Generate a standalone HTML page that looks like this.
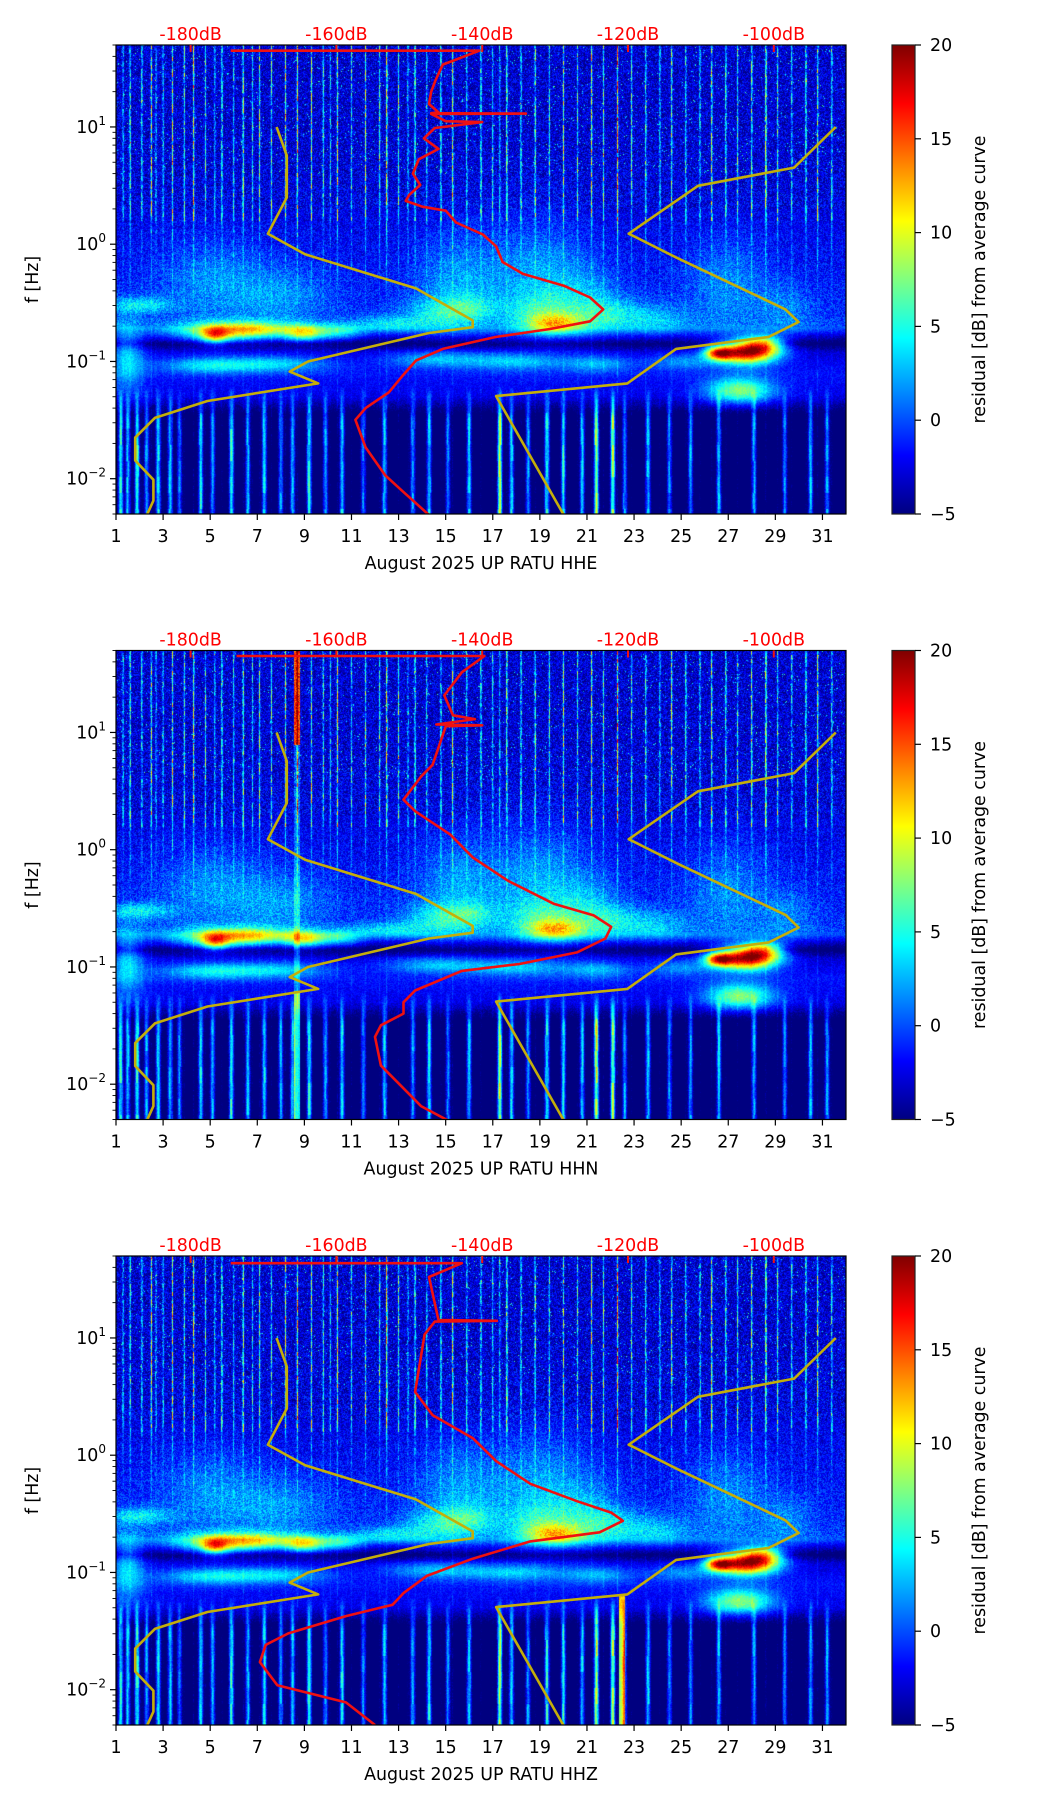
<!DOCTYPE html>
<html><head><meta charset="utf-8"><style>
html,body{margin:0;padding:0;background:#fff;}
#wrap{position:relative;width:1052px;height:1806px;overflow:hidden;font-family:"DejaVu Sans","Liberation Sans",sans-serif;}
canvas{position:absolute;}
svg{position:absolute;left:0;top:0;}
</style></head><body>
<div id="wrap">
<svg id="svg" width="1052" height="1806"></svg>
</div>
<script>
// ---------- data ----------
const channels = ["HHE","HHN","HHZ"];
const xTickDays = [1,3,5,7,9,11,13,15,17,19,21,23,25,27,29,31];
const dbTicks = [-180,-160,-140,-120,-100];
const cbTicks = [20,15,10,5,0,-5];
// low noise model (gold, left)
const nlnmDb = [-168.2,-166.8,-166.8,-169.4,-164.3,-149.1,-141.3,-141.3,-147.3,-163.9,-166.4,-162.5,-177.7,-184.9,-187.6,-187.6,-185.1,-185.1,-186.0];
const nlnmF  = [10,5.7,2.5,1.23,0.82,0.42,0.224,0.196,0.175,0.10,0.082,0.065,0.046,0.033,0.0224,0.0143,0.0098,0.0065,0.0049];
// high noise model (gold, right)
const nhnmDb = [-91.5,-97.2,-110.4,-119.9,-113.2,-98.4,-96.6,-100.7,-113.4,-120.1,-138.1,-128.8];
const nhnmF  = [10,4.5,3.15,1.23,0.76,0.278,0.217,0.162,0.128,0.065,0.0506,0.0049];
// average PSD per channel (red)
const redDb1 = [-174.5,-140.4,-145.4,-146.4,-147,-147.3,-146,-147,-134,-147,-145,-140,-146.5,-148,-146,-148.7,-149.5,-148.5,-150,-150.5,-148.2,-145.0,-143.6,-139.9,-138.1,-137.2,-134.4,-128.8,-125.2,-123.4,-125.2,-130.7,-138.1,-145.4,-149.1,-151.0,-152.8,-156.0,-157.4,-156.0,-153.3,-151.0,-147.3];
const redF1  = [44.7,44.7,34,25,20,15.7,13.3,13.1,13.0,12.9,11.2,11.0,9.8,8,6.5,5.3,4,3.2,2.64,2.34,2.09,1.93,1.53,1.21,0.96,0.705,0.558,0.443,0.351,0.278,0.220,0.189,0.162,0.128,0.1016,0.0745,0.0546,0.040,0.0318,0.0185,0.0107,0.0079,0.0049];
const redDb2 = [-173.7,-139.7,-142.8,-145.2,-144,-141,-146.3,-140,-145,-146.8,-148.4,-150.8,-149.2,-144.4,-141.3,-136.5,-130.2,-124.7,-122.3,-123.1,-127.0,-134.9,-142.8,-149.2,-150.8,-150.8,-153.9,-154.7,-153.9,-151.5,-148.4,-144.4];
const redF2  = [44.9,44.9,32.6,20.7,14,13,11.7,11.5,11.3,5.3,4.2,2.67,2.13,1.35,0.86,0.545,0.346,0.275,0.22,0.175,0.133,0.106,0.0925,0.063,0.05,0.04,0.0318,0.0253,0.0144,0.0102,0.0065,0.0048];
const redDb3 = [-174.5,-142.8,-147.3,-146,-138,-146.5,-147.9,-149.2,-146.8,-141.3,-138.1,-133.4,-127.0,-122.3,-120.7,-123.9,-133.4,-141.3,-147.6,-150.8,-152.3,-158.7,-166.6,-169.7,-170.5,-168.1,-158.7,-154.7];
const redF3  = [43.4,43.4,33.1,14.2,14,13.8,10.7,3.46,2.2,1.4,0.89,0.57,0.405,0.324,0.276,0.22,0.184,0.131,0.0935,0.0667,0.053,0.0424,0.0302,0.0241,0.0172,0.0109,0.0078,0.005];
// spectrogram background field (residual dB) vs log10 f
const baseLogf = [1.7,1.0,0.3,0.0,-0.3,-0.6,-0.72,-0.78,-0.85,-0.92,-1.1,-1.3,-1.45,-2.4];
const baseVal  = [-3,-3,-2.5,-2,-1.5,-1,0,-3,-6,-3,-1.5,-2.5,-6,-6];
// blobs: day, log10 f, sd day, sd logf, amplitude
const blobDay = [5,8,15.5,19,21,27,29.5,2,5.5,5.2,9,7,10.5,12.5,14.5,16,19.7,19,22,24,5,8,14.5,18,21.5,25,27.8,26.6,28.5,27.5,1.5];
const blobLf  = [-0.3,-0.45,-0.3,-0.3,-0.5,-0.35,-0.55,-0.52,-0.75,-0.78,-0.76,-0.73,-0.75,-0.68,-0.6,-0.55,-0.68,-0.6,-0.6,-0.65,-1.03,-1.02,-0.98,-1.0,-1.02,-1.0,-0.92,-0.93,-0.85,-1.25,-0.95];
const blobSd  = [1.5,1.5,1.2,1.5,1,1.2,0.8,1,1.5,0.4,0.6,1.2,0.7,1,1,0.8,0.8,1,1,1,1.5,1.5,1.5,1.5,1,1,0.9,0.4,0.6,1,0.5];
const blobSl  = [0.25,0.2,0.3,0.35,0.2,0.3,0.15,0.05,0.06,0.05,0.05,0.05,0.05,0.05,0.1,0.08,0.06,0.12,0.1,0.1,0.05,0.05,0.05,0.05,0.05,0.05,0.07,0.04,0.05,0.08,0.2];
const blobAmp = [3,3,3.5,4,3,3,2.5,5,9,9,10,6,6,4,4,4,8,4,4,3.5,6,5,5,5,4.5,4,21,14,10,10,6];
// thin high-frequency streaks (day, amplitude)
const hiDays = [1.3,1.6,2.1,2.5,2.7,3.0,3.4,3.9,4.3,4.8,5.2,5.5,6.0,6.4,6.8,7.1,7.6,8.2,8.7,9.3,9.8,10.1,10.4,11.0,11.6,12.2,12.5,13.0,13.4,13.7,14.2,14.8,15.3,15.9,16.5,17.0,17.3,17.6,18.2,18.8,19.4,20.0,20.6,21.2,21.7,22.3,22.9,23.5,24.1,24.6,25.2,25.8,26.3,26.9,27.4,28.0,28.6,29.1,29.7,30.3,30.8,31.4];
const hiAmp  = [9,12,10,14,8,9,13,11,15,10,8,12,9,14,8,11,10,13,16,12,10,8,14,9,12,11,17,10,8,13,9,12,15,10,12,9,8,14,11,13,10,12,9,14,11,18,10,12,9,13,11,10,14,12,10,13,17,11,10,12,14,11];
// wide low-frequency streaks (day, amplitude)
const loDays = [1.2,1.5,1.9,2.3,2.8,3.3,3.7,4.6,5.1,5.9,6.6,7.3,8.0,8.5,9.2,9.9,10.6,11.5,12.4,13.6,14.3,15.1,16.0,17.3,17.8,18.5,19.3,20.0,20.8,21.4,22.1,22.6,23.6,24.5,25.4,26.6,28.1,29.4,30.5,31.2];
const loAmp  = [12,10,13,9,11,10,8,11,9,12,10,11,9,10,12,9,11,8,10,9,11,8,10,16,11,9,12,11,10,17,16,9,10,8,9,10,9,8,10,9];

// ---------- geometry ----------
const AX_L=116, AX_W=730, AX_H=469;
const panelTops=[45,650.5,1256];
const LF_TOP=Math.log10(50), LF_BOT=Math.log10(0.005);
const xDay=d=>AX_L+(d-1)*AX_W/31;
const xDb=db=>190.6+(db+180)*7.29;
const yLf=(lf,top)=>top+(LF_TOP-lf)/(LF_TOP-LF_BOT)*AX_H;
const yF=(f,top)=>yLf(Math.log10(f),top);

function jet(t){t=Math.max(0,Math.min(1,t));
 const c=v=>Math.max(0,Math.min(1,v));
 return [c(1.5-Math.abs(4*t-3))*255,c(1.5-Math.abs(4*t-2))*255,c(1.5-Math.abs(4*t-1))*255];}
function interpBase(lf){
 for(let i=0;i<baseLogf.length-1;i++){ if(lf<=baseLogf[i]&&lf>=baseLogf[i+1]){const u=(lf-baseLogf[i])/(baseLogf[i+1]-baseLogf[i]);return baseVal[i]+u*(baseVal[i+1]-baseVal[i]);}}
 return baseVal[baseVal.length-1];}
function hash(x,y,s){let h=(x*374761393+y*668265263+s*982451653)|0;h=(h^(h>>>13))*1274126177|0;return ((h^(h>>>16))>>>0)/4294967295;}

const NS="http://www.w3.org/2000/svg";
const svg=document.getElementById('svg');
function el(tag,attrs,parent){const e=document.createElementNS(NS,tag);for(const k in attrs)e.setAttribute(k,attrs[k]);(parent||svg).appendChild(e);return e;}

function drawSpec(p){
 const top=panelTops[p];
 const cv=document.createElement('canvas');
 cv.width=AX_W;cv.height=AX_H;cv.style.left=AX_L+'px';cv.style.top=top+'px';
 
 
 document.getElementById('wrap').insertBefore(cv,svg);
 const ctx=cv.getContext('2d');const img=ctx.createImageData(AX_W,AX_H);const D=img.data;
 const hiCol=new Float32Array(AX_W), loCol=new Float32Array(AX_W);
 for(let x=0;x<AX_W;x++){
   const px=AX_L+x+0.5;let h=0,l=0;
   for(let i=0;i<hiDays.length;i++){const dx=px-xDay(hiDays[i]);h+=hiAmp[i]*Math.exp(-dx*dx/0.45);}
   for(let i=0;i<loDays.length;i++){const dx=px-xDay(loDays[i]);l+=loAmp[i]*Math.exp(-dx*dx/5);}
   hiCol[x]=h;loCol[x]=l;}
 for(let y=0;y<AX_H;y++){
   const lf=LF_TOP-(y+0.5)/AX_H*(LF_TOP-LF_BOT);
   const base=interpBase(lf);
   const wHi=lf>0.2?1:(lf>-0.7?(lf+0.7)/0.9*0.5:0.12);
   const wLo=lf<-1.2?Math.min(1,(-1.2-lf)/0.3):0;
   const nAmp=lf>0.3?2.6:(lf>-0.7?2:1);
   for(let x=0;x<AX_W;x++){
     const d=1+(x+0.5)/AX_W*31;
     let v=base;
     for(let i=0;i<blobDay.length;i++){const a=(d-blobDay[i])/blobSd[i],b=(lf-blobLf[i])/blobSl[i];const q=a*a+b*b;if(q<12)v+=blobAmp[i]*Math.exp(-q/2);}
     v+=hiCol[x]*wHi*(0.3+0.9*hash(x,y>>2,p+7));
     v+=loCol[x]*wLo*(0.7+0.4*hash(x>>1,y>>4,p+3));
     v+=(hash(x,y,p)-0.5)*2*nAmp;
     if(lf>0.6&&hash(x,y,p+11)>0.985)v+=7;
     if(p===1&&Math.abs(d-8.7)<0.12)v+=(lf>0.9?18:(lf>-1.2?3:10));
     if(p===2&&Math.abs(d-22.5)<0.12&&lf<-1.2)v+=14;
     const c=jet((v+5)/25);const k=(y*AX_W+x)*4;
     D[k]=c[0];D[k+1]=c[1];D[k+2]=c[2];D[k+3]=255;}
 }
 ctx.putImageData(img,0,0);
}

function polyline(dbArr,fArr,top,color,w,name){
 const pts=dbArr.map((db,i)=>xDb(db).toFixed(1)+','+yF(fArr[i],top).toFixed(1)).join(' ');
 const e=el('polyline',{points:pts,fill:'none',stroke:color,'stroke-width':w,'stroke-linejoin':'round','clip-path':'url(#clip'+(top|0)+')'});
 
 
}

const redDbs=[redDb1,redDb2,redDb3], redFs=[redF1,redF2,redF3];
const defs=el('defs',{});
for(let p=0;p<3;p++){
 const top=panelTops[p];
 drawSpec(p);
 const cp=el('clipPath',{id:'clip'+(top|0)},defs);
 el('rect',{x:AX_L,y:top,width:AX_W,height:AX_H},cp);
 polyline(nlnmDb,nlnmF,top,'#c4ae0a',2.6,'low-noise-model-line');
 polyline(nhnmDb,nhnmF,top,'#c4ae0a',2.6,'high-noise-model-line');
 polyline(redDbs[p],redFs[p],top,'#f01010',2.6,'average-psd-line');
 const fr=el('rect',{x:AX_L,y:top,width:AX_W,height:AX_H,fill:'none',stroke:'#000','stroke-width':1.2});
 
 
 dbTicks.forEach(db=>{
   const x=xDb(db);
   el('line',{x1:x,x2:x,y1:top,y2:top+7,stroke:'#f01010','stroke-width':2});
   const t=el('text',{x:x,y:top-5,'text-anchor':'middle','font-size':17.4,fill:'#ff0000'});
   t.textContent=db+'dB';
   
   
 });
 xTickDays.forEach(d=>{
   const x=xDay(d);
   el('line',{x1:x,x2:x,y1:top+AX_H,y2:top+AX_H+6,stroke:'#000','stroke-width':1.2});
   const t=el('text',{x:x,y:top+AX_H+28,'text-anchor':'middle','font-size':17.4,fill:'#000'});
   t.textContent=d;
   
   
 });
 for(let e=-3;e<=1;e++){
   for(let m=1;m<10;m++){
     const lf=e+Math.log10(m);
     if(lf>LF_TOP||lf<LF_BOT)continue;
     const y=yLf(lf,top);
     el('line',{x1:AX_L,x2:AX_L-(m===1?6:3.5),y1:y,y2:y,stroke:'#000','stroke-width':m===1?1.2:0.9});
     if(m===1){
       const t=el('text',{x:AX_L-10,y:y+6,'text-anchor':'end','font-size':17.4,fill:'#000'});
       
       
       t.appendChild(document.createTextNode('10'));
       const s=el('tspan',{dy:-8,'font-size':12},t);s.textContent=(e<0?'\u2212':'')+Math.abs(e);
     }
   }
 }
 const xl=el('text',{x:AX_L+AX_W/2,y:top+AX_H+55,'text-anchor':'middle','font-size':17.4,fill:'#000','xml:space':'preserve'});
 xl.textContent='August 2025 UP RATU  '+channels[p];
 
 
 const yl=el('text',{x:0,y:0,transform:'translate(38,'+(top+AX_H/2)+') rotate(-90)','text-anchor':'middle','font-size':17.4,fill:'#000'});
 yl.textContent='f [Hz]';
 
 
 const gid='jet'+p;
 const lg=el('linearGradient',{id:gid,x1:0,y1:1,x2:0,y2:0},defs);
 for(let i=0;i<=16;i++){const c=jet(i/16);el('stop',{offset:i/16,'stop-color':'rgb('+c.map(Math.round).join(',')+')'},lg);}
 const cb=el('rect',{x:892,y:top,width:23,height:AX_H,fill:'url(#'+gid+')',stroke:'#222','stroke-width':1.2});
 
 
 cbTicks.forEach(v=>{
   const y=top+(20-v)/25*AX_H;
   el('line',{x1:915,x2:921,y1:y,y2:y,stroke:'#000','stroke-width':1.2});
   const t=el('text',{x:930,y:y+6,'font-size':17.4,fill:'#000'});
   t.textContent=(v<0?'\u2212':'')+Math.abs(v);
   
   
 });
 const cl=el('text',{x:0,y:0,transform:'translate(985,'+(top+AX_H/2)+') rotate(-90)','text-anchor':'middle','font-size':17.4,fill:'#000'});
 cl.textContent='residual [dB] from average curve';
 
 
}
</script>
</body></html>
